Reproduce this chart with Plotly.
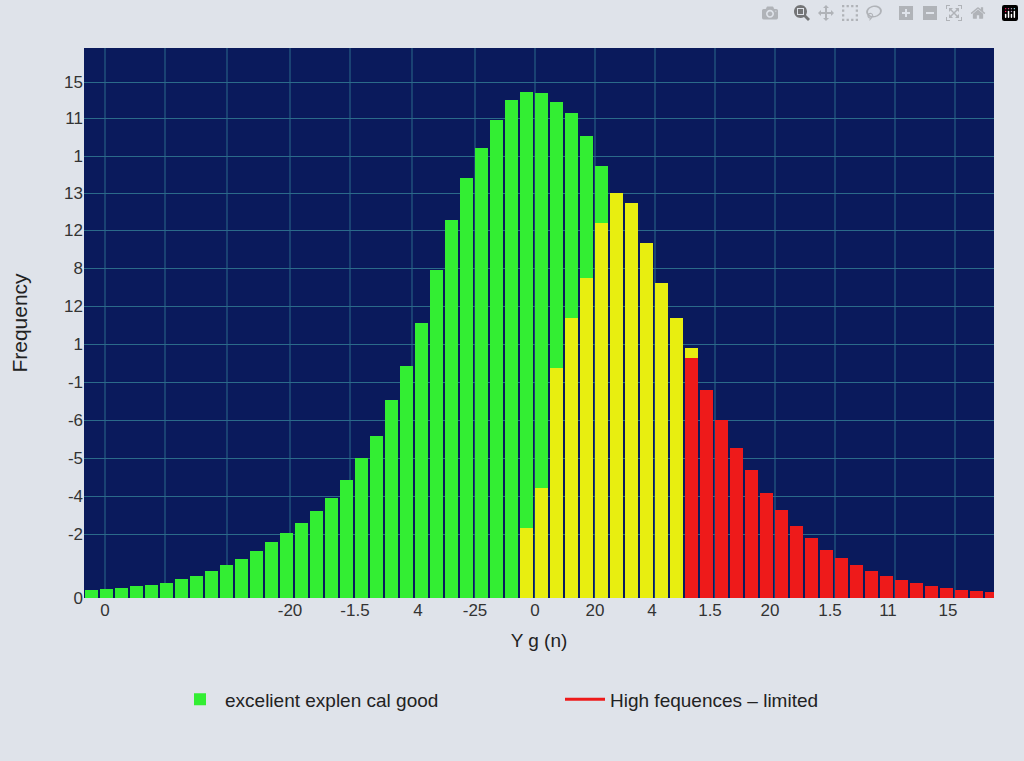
import plotly.graph_objects as go

x_centers = [91.5 + 15 * k for k in range(61)]
green = [8, 9, 10, 12, 13, 15, 19, 22, 27, 33, 39, 47, 56, 65, 75, 87, 100, 118, 140, 162,
         198, 232, 275, 328, 378, 420, 450, 478, 498, 506, 505, 496, 485, 462, 432, 400] + [None] * 25
yellow = [None] * 29 + [70, 110, 230, 280, 320, 375, 405, 395, 355, 315, 280, 250] + [None] * 20
red = [None] * 40 + [240, 208, 178, 150, 128, 105, 88, 72, 60, 48, 40, 33, 27, 22, 18, 15, 12, 10, 8, 7, 6]

x_tick_pos = [105, 290, 355, 418, 475, 535, 595, 652, 710, 770, 830, 888, 948]
x_tick_text = ["0", "-20", "-1.5", "4", "-25", "0", "20", "4", "1.5", "20", "1.5", "11", "15"]
y_tick_pos = [0, 64, 102, 140, 178, 216, 254, 292, 330, 368, 405, 442, 480, 516]
y_tick_text = ["0", "-2", "-4", "-5", "-6", "-1", "1", "12", "8", "12", "13", "1", "11", "15"]
grid_x = [105, 165, 227, 290, 350, 412, 475, 535, 595, 655, 715, 775, 835, 895, 955]

fig = go.Figure()
fig.add_bar(x=x_centers, y=green, width=13, marker=dict(color="#33ee33", line_width=0),
            name="excelient explen cal good")
fig.add_bar(x=x_centers, y=yellow, width=13, marker=dict(color="#e8ee10", line_width=0), showlegend=False)
fig.add_bar(x=x_centers, y=red, width=13, marker=dict(color="#ee1a1a", line_width=0), showlegend=False)
fig.add_scatter(x=[None], y=[None], mode="lines", line=dict(color="#ee1a1a", width=3),
                name="High fequences – limited")

for gx in grid_x:
    fig.add_shape(type="line", x0=gx, x1=gx, y0=0, y1=550, layer="below",
                  line=dict(color="#2b6a8a", width=1))

fig.update_layout(
    width=1024, height=761, barmode="overlay", bargap=0,
    paper_bgcolor="#dfe3ea", plot_bgcolor="#0a1a5c",
    margin=dict(l=84, r=30, t=48, b=163),
    font=dict(family="Liberation Sans, Arial", size=17, color="#333"),
    xaxis=dict(range=[84, 994], tickvals=x_tick_pos, ticktext=x_tick_text, showgrid=False,
               zeroline=False, title=dict(text="Y g (n)", font=dict(size=19, color="#222"), standoff=14)),
    yaxis=dict(range=[0, 550], tickvals=y_tick_pos, ticktext=y_tick_text, gridcolor="#2b6a8a",
               zeroline=False, ticks="", title=dict(text="Frequency", font=dict(size=21, color="#222"), standoff=30)),
    legend=dict(orientation="h", x=0.1, y=-0.15, xanchor="left", yanchor="top",
                font=dict(size=19, color="#222"), itemwidth=40, entrywidth=330,
                bgcolor="rgba(0,0,0,0)"),
)
fig.write_html("out.html", post_script="document.body.style.margin='0';")
